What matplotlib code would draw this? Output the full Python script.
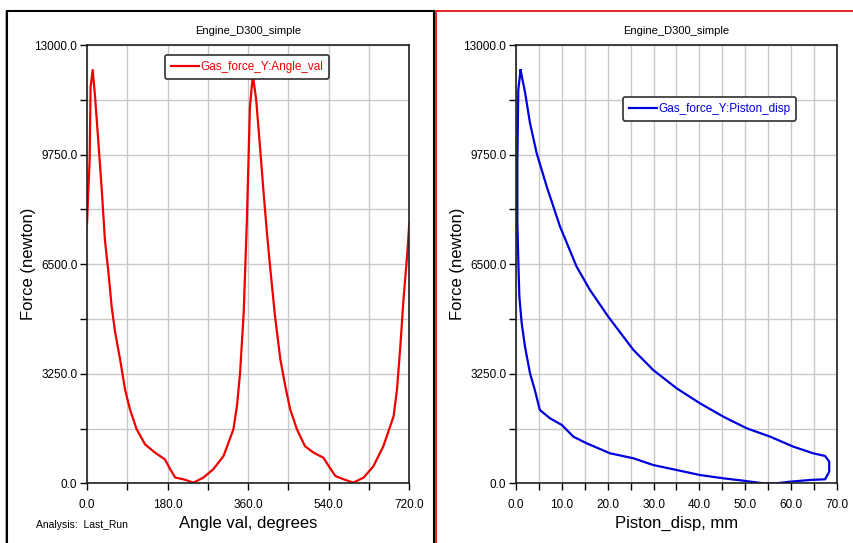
import matplotlib
matplotlib.use("Agg")
import matplotlib.pyplot as plt
from matplotlib import font_manager
from matplotlib.patches import Rectangle
from matplotlib.ticker import MultipleLocator, FormatStrFormatter

# data
angle_deg = [0, 3, 6, 8, 12.7, 18, 25, 33, 40, 48, 55, 63, 74, 85, 96, 111, 130, 152, 174,
             186, 197, 215, 238, 260, 282, 305, 327, 335, 342, 350, 357, 364, 370.5, 378,
             387, 394, 402, 409, 420, 432, 443, 454, 469, 487, 506, 528, 540, 555, 573,
             595, 618, 640, 662, 685, 692.5, 700, 707, 715, 720]
force_angle = [7720, 8700, 9590, 11760, 12260, 11470, 10190, 8700, 7220, 6240, 5250, 4470,
               3670, 2780, 2190, 1600, 1150, 910, 710, 415, 170, 120, 20, 170, 415, 810,
               1600, 2290, 3280, 5050, 7720, 11170, 12100, 11370, 9890, 8700, 7420, 6430,
               4950, 3670, 2880, 2190, 1600, 1100, 910, 760, 510, 215, 120, 20, 170, 510,
               1100, 1990, 2780, 4070, 5450, 6730, 7720]

piston_disp = [1.0, 2.0, 3.05, 4.5, 6.7, 9.6, 13.2, 16.1, 20.1, 25.6, 29.9, 35.0, 40.1, 45.2,
               50.3, 55.4, 60.5, 64.8, 67.4, 68.3, 68.3, 67.4, 64.1, 59.7, 56.8, 53.9, 49.6,
               45.2, 40.1, 35.0, 29.9, 25.6, 20.5, 15.4, 12.5, 10.0, 7.4, 5.2, 4.1, 3.05,
               1.96, 1.24, 0.73, 0.5, 0.3, 0.3, 0.5, 1.0]
force_disp = [12250, 11575, 10685, 9795, 8800, 7615, 6430, 5740, 4945, 3956, 3363, 2820,
              2374, 1977, 1632, 1384, 1086, 890, 810, 641, 344, 119, 98, 47, 0, 0, 77, 148,
              246, 395, 543, 742, 890, 1187, 1384, 1730, 1929, 2176, 2769, 3265, 4054, 4749,
              5539, 6628, 7717, 9596, 11673, 12250]

title = "Engine_D300_simple"
y_label = "Force (newton)"

names = {f.name for f in font_manager.fontManager.ttflist}
narrow = "Liberation Sans Narrow" if "Liberation Sans Narrow" in names else "Liberation Sans"
plt.rcParams["font.family"] = [narrow, "DejaVu Sans"]

W, H = 854, 543
fig = plt.figure(figsize=(W / 100, H / 100), dpi=100)


def fx(px):
    return px / W


def fy(py):
    return 1 - py / H


# panel frames
fig.patches.append(Rectangle((fx(5), fy(543)), fx(2), fy(11) - fy(543), transform=fig.transFigure,
                             facecolor="#b0b0b0", edgecolor="none"))
fig.patches.append(Rectangle((fx(7.5), fy(545)), fx(434) - fx(7.5), fy(11) - fy(545),
                             transform=fig.transFigure, fill=False, edgecolor="black", lw=1.5))
fig.patches.append(Rectangle((fx(436.5), fy(545)), fx(860) - fx(436.5), fy(11) - fy(545),
                             transform=fig.transFigure, fill=False, edgecolor="#e00000", lw=1.2))


def setup(ax, xmax, xmajor, xminor, xlabel, axw):
    ax.set_xlim(0, xmax)
    ax.set_ylim(0, 13000)
    ax.xaxis.set_major_locator(MultipleLocator(xmajor))
    ax.xaxis.set_minor_locator(MultipleLocator(xminor))
    ax.yaxis.set_major_locator(MultipleLocator(3250))
    ax.yaxis.set_minor_locator(MultipleLocator(1625))
    ax.xaxis.set_major_formatter(FormatStrFormatter("%.1f"))
    ax.yaxis.set_major_formatter(FormatStrFormatter("%.1f"))
    ax.grid(True, which="both", color="#c8c8c8", lw=1)
    ax.set_axisbelow(True)
    ax.tick_params(which="both", direction="out", length=5, width=1, color="black",
                   labelsize=8.5)
    ax.tick_params(axis="y", pad=2)
    ax.tick_params(axis="x", pad=6)
    for s in ax.spines.values():
        s.set_color("#202020")
        s.set_linewidth(1.2)
    ax.set_title(title, fontsize=8, pad=8)
    ax.set_xlabel(xlabel, fontsize=12, family="Liberation Sans")
    ax.set_ylabel(y_label, fontsize=12, family="Liberation Sans")
    ax.yaxis.set_label_coords(-51 / axw, 0.5)
    ax.xaxis.set_label_coords(0.5, -33 / 438.3)


ax1 = fig.add_axes([fx(87), fy(483.3), fx(409.3) - fx(87), fy(45) - fy(483.3)])
ax1.plot(angle_deg, force_angle, color="#ee0000", lw=1.6, label="Gas_force_Y:Angle_val")
setup(ax1, 720, 180, 90, "Angle val, degrees", 322.3)
leg1 = ax1.legend(loc="upper left", bbox_to_anchor=((159 - 87) / 322.3, 1 - 4 / 438.3),
                  fontsize=8.5, labelcolor="#ee0000", handlelength=2.4, handletextpad=0.1,
                  borderpad=0.5, fancybox=True, framealpha=1, edgecolor="#303030")
leg1.get_frame().set_linewidth(1.2)

ax2 = fig.add_axes([fx(516), fy(483.3), fx(837) - fx(516), fy(45) - fy(483.3)])
ax2.plot(piston_disp, force_disp, color="#0000dd", lw=1.6, label="Gas_force_Y:Piston_disp")
setup(ax2, 70, 10, 5, "Piston_disp, mm", 321)
leg2 = ax2.legend(loc="upper left", bbox_to_anchor=((617 - 516) / 321, 1 - 46 / 438.3),
                  fontsize=8.5, labelcolor="#0000dd", handlelength=2.4, handletextpad=0.1,
                  borderpad=0.5, fancybox=True, framealpha=1, edgecolor="#303030")
leg2.get_frame().set_linewidth(1.2)

fig.text(fx(36), fy(525), "Analysis:  Last_Run", fontsize=7.5, va="center", ha="left")

fig.savefig("out.png", dpi=100)
